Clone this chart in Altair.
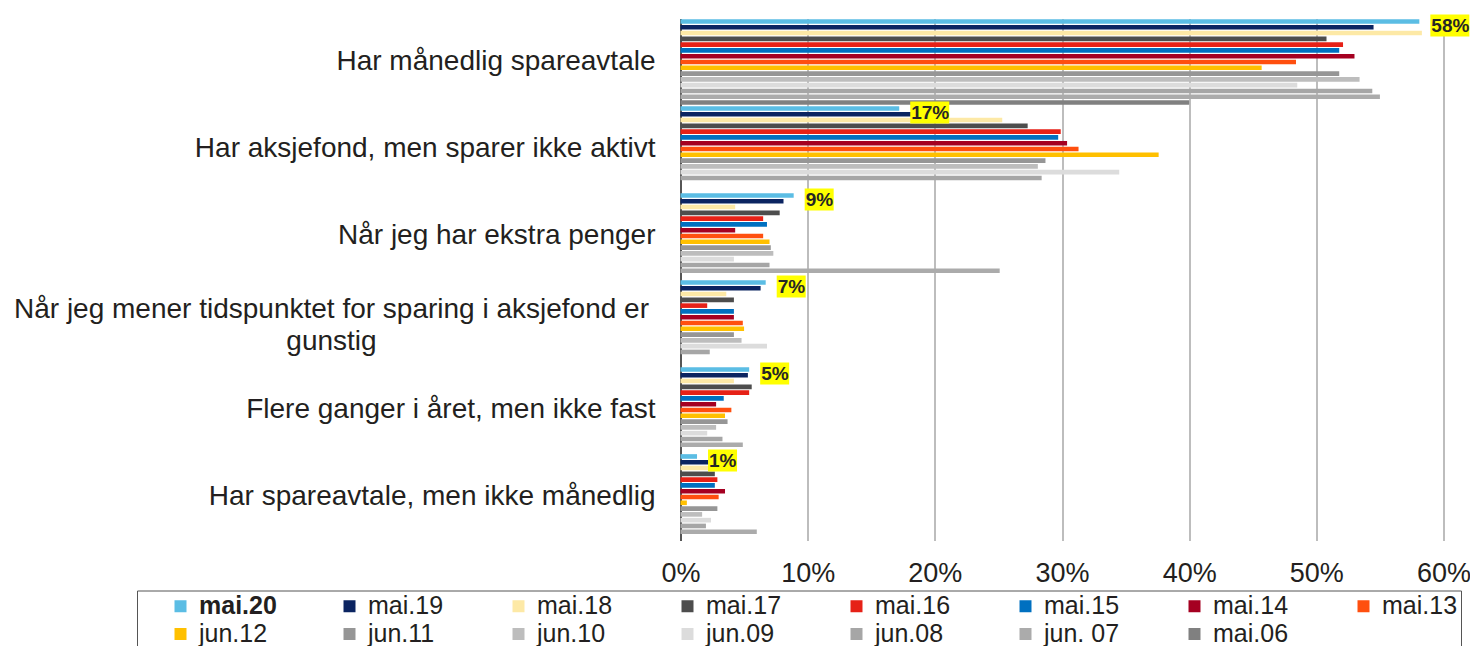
import altair as alt
import pandas as pd

categories = [
    "Har månedlig spareavtale",
    "Har aksjefond, men sparer ikke aktivt",
    "Når jeg har ekstra penger",
    "Når jeg mener tidspunktet for sparing i aksjefond er gunstig",
    "Flere ganger i året, men ikke fast",
    "Har spareavtale, men ikke månedlig",
]
wrapped = {
    "Når jeg mener tidspunktet for sparing i aksjefond er gunstig":
        "Når jeg mener tidspunktet for sparing i aksjefond er\ngunstig",
}

series = ["mai.20", "mai.19", "mai.18", "mai.17", "mai.16", "mai.15", "mai.14",
          "mai.13", "jun.12", "jun.11", "jun.10", "jun.09", "jun.08", "jun. 07", "mai.06"]
colors = ["#5BBDE4", "#0B2461", "#FDE9A6", "#4D4D4D", "#E62117", "#0070C0", "#A50021",
          "#FF4F0F", "#FFC000", "#969696", "#BDBDBD", "#DCDCDC", "#A6A6A6", "#ABABAB", "#808080"]

values = {
    "mai.20":  [58.1, 17.2, 8.9, 6.7, 5.4, 1.3],
    "mai.19":  [54.5, 18.4, 8.1, 6.3, 5.3, 2.5],
    "mai.18":  [58.3, 25.3, 4.3, 3.6, 4.2, 2.5],
    "mai.17":  [50.8, 27.3, 7.8, 4.2, 5.6, 2.7],
    "mai.16":  [52.1, 29.9, 6.5, 2.1, 5.4, 2.9],
    "mai.15":  [51.8, 29.7, 6.8, 4.2, 3.4, 2.7],
    "mai.14":  [53.0, 30.4, 4.3, 4.2, 2.8, 3.5],
    "mai.13":  [48.4, 31.3, 6.5, 4.9, 4.0, 3.0],
    "jun.12":  [45.7, 37.6, 7.0, 5.0, 3.5, 0.5],
    "jun.11":  [51.8, 28.7, 7.1, 4.2, 3.7, 2.9],
    "jun.10":  [53.4, 28.1, 7.3, 4.8, 2.8, 1.7],
    "jun.09":  [48.5, 34.5, 4.2, 6.8, 2.1, 2.4],
    "jun.08":  [54.4, 28.4, 7.0, 2.3, 3.3, 2.0],
    "jun. 07": [55.0, None, 25.1, None, 4.9, 6.0],
    "mai.06":  [40.0, None, None, None, None, None],
}
ticks = [0, 10, 20, 30, 40, 50, 60]

rows = []
for s in series:
    for c, v in zip(categories, values[s]):
        if v is not None:
            rows.append({"category": c, "series": s, "value": v})
df = pd.DataFrame(rows)

cat_df = pd.DataFrame({"category": categories,
                       "text": [wrapped.get(c, c) for c in categories],
                       "wrap": [c in wrapped for c in categories]})

FONT = "Liberation Sans"
TXT = "#231f20"

y_enc = alt.Y("category:N", sort=categories, title=None,
              scale=alt.Scale(paddingInner=0.015, paddingOuter=0.0075),
              axis=alt.Axis(labels=False, ticks=False, grid=False,
                            domainColor="#333333", domainWidth=1.5))
x_enc = alt.X("value:Q", title=None,
              scale=alt.Scale(domain=[0, 60], nice=False),
              axis=alt.Axis(values=ticks, labelExpr="datum.value + '%'",
                            grid=True, gridColor="#9a9a9a", gridWidth=1.3,
                            domain=False, ticks=False, tickSize=0, labelFlush=False,
                            labelPadding=20, labelFontSize=27, labelFont=FONT,
                            labelColor=TXT))

bars = alt.Chart(df).mark_bar().encode(
    x=x_enc,
    y=y_enc,
    yOffset=alt.YOffset("series:N", sort=series,
                        scale=alt.Scale(domain=series, paddingInner=0.2, paddingOuter=0)),
    color=alt.Color("series:N", sort=series,
                    scale=alt.Scale(domain=series, range=colors),
                    legend=alt.Legend(
                        orient="none", legendX=-543.5, legendY=572,
                        columns=8, direction="horizontal", gridAlign="all",
                        title="\u00a0", titleOrient="left", titleFontSize=25,
                        titlePadding=28,
                        symbolType="square", symbolSize=144, symbolStrokeWidth=0,
                        labelFontSize=25, labelFont=FONT, labelColor=TXT,
                        labelOffset=6, labelLimit=0,
                        labelFontWeight=alt.expr("datum.label === 'mai.20' ? 'bold' : 'normal'"),
                        columnPadding=60, rowPadding=2, padding=3,
                        strokeColor="#555555")),
)

base = alt.Chart(df).transform_filter(alt.datum.series == "mai.20").transform_calculate(
    label="format(round(datum.value), 'd') + '%'"
)

box3 = base.transform_filter("length(datum.label) == 3").mark_point(
    shape="M-1,-0.564H1V0.564H-1Z", size=1521, filled=True, color="#FFFF00",
    opacity=1, strokeWidth=0, xOffset=30.5, yOffset=-36.5
).encode(x="value:Q", y=alt.Y("category:N", sort=categories))

box2 = base.transform_filter("length(datum.label) == 2").mark_point(
    shape="M-1,-0.759H1V0.759H-1Z", size=841, filled=True, color="#FFFF00",
    opacity=1, strokeWidth=0, xOffset=25.5, yOffset=-36.5
).encode(x="value:Q", y=alt.Y("category:N", sort=categories))

labels = base.mark_text(
    align="left", baseline="middle", font=FONT, fontSize=19, fontWeight="bold",
    color="#262626", xOffset=12, yOffset=-36.5
).encode(x="value:Q", y=alt.Y("category:N", sort=categories), text="label:N")

cat_right = alt.Chart(cat_df).transform_filter("!datum.wrap").mark_text(
    align="right", baseline="middle", font=FONT, fontSize=28, color=TXT
).encode(x=alt.value(-25), y=alt.Y("category:N", sort=categories), text="text:N")

cat_center = alt.Chart(cat_df).transform_filter("datum.wrap").mark_text(
    align="center", baseline="middle", font=FONT, fontSize=28, color=TXT,
    lineBreak="\n", lineHeight=32, dy=-13
).encode(x=alt.value(-349), y=alt.Y("category:N", sort=categories), text="text:N")

chart = alt.layer(bars, box3, box2, labels, cat_right, cat_center).properties(
    width=763, height=522,
    padding={"left": 672.5, "top": 10.5, "right": 26.5, "bottom": 105.5},
    autosize=alt.AutoSizeParams(type="none"),
).configure_view(stroke=None)

chart.save("out.html", embed_options={"renderer": "svg", "actions": False})
